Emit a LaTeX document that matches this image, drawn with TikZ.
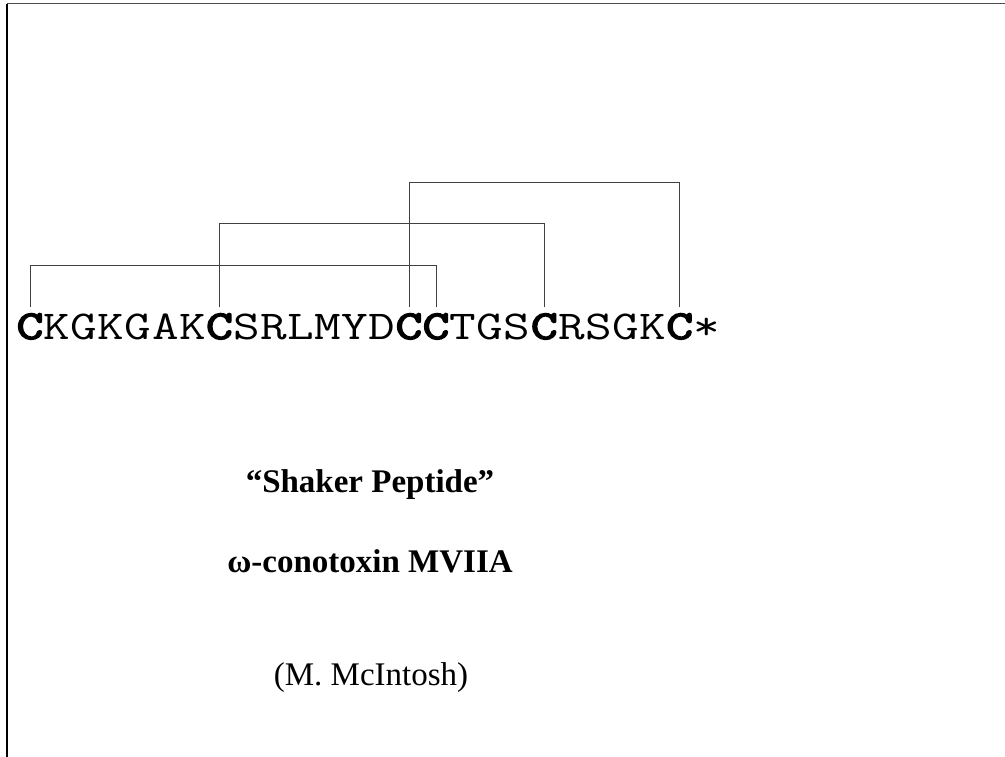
\documentclass[tikz,border=0pt]{standalone}
\usepackage{fontspec}
\setmainfont{Liberation Serif}
\setmonofont{Latin Modern Mono}[AutoFakeBold=3.5]

\begin{document}
\begin{tikzpicture}[x=1pt, y=-1pt,
	residue/.style={inner sep=0pt, anchor=base, font=\fontsize{41}{46}\selectfont\ttfamily},
	cys/.style={residue, font=\fontsize{41}{46}\selectfont\ttfamily\bfseries},
	bond/.style={draw=black!75, line width=0.9pt},
	caption/.style={inner sep=0pt, anchor=base, font=\fontsize{33}{38}\selectfont}]
	\useasboundingbox (0,0) rectangle (1005,757);

	% frame
	\draw [black!70, line width=1pt] (7,4) -- (1005,4);
	\draw [line width=1.2pt] (7,4) -- (7,757);

	% peptide sequence, one node per residue
	\foreach \st/\aa [count=\i] in {cys/C,residue/K,residue/G,residue/K,residue/G,residue/A,residue/K,cys/C,residue/S,residue/R,residue/L,residue/M,residue/Y,residue/D,cys/C,cys/C,residue/T,residue/G,residue/S,cys/C,residue/R,residue/S,residue/G,residue/K,cys/C,residue/*}
		\node [\st] (r\i) at ({30+27.07*(\i-1)},339) {\scalebox{1.26}[1]{\aa}};

	% disulfide bridges
	\foreach \a/\b/\lvl in {1/16/265.7, 8/20/223.5, 15/25/182}
		\draw [bond] (r\a.north |- 0,307) -- (r\a.north |- 0,\lvl) -- (r\b.north |- 0,\lvl) -- (r\b.north |- 0,307);

	% names
	\node [caption, font=\fontsize{33}{38}\selectfont\bfseries] (name) at (370,492) {“Shaker Peptide”};
	\node [caption, font=\fontsize{33}{38}\selectfont\bfseries] (toxin) at (370,572) {ω-conotoxin MVIIA};
	\node [caption] (source) at (371,685) {(M. McIntosh)};
\end{tikzpicture}
\end{document}
